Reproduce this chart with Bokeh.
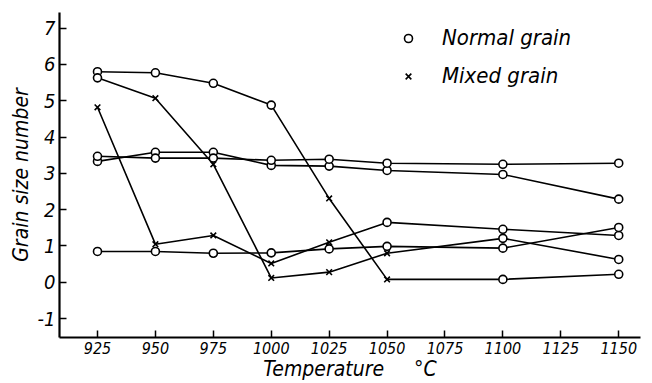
from bokeh.plotting import figure
from bokeh.models import FixedTicker, Legend, LegendItem
from bokeh.embed import file_html
from bokeh.resources import INLINE

# ---- data ----
temps = [925, 950, 975, 1000, 1025, 1050, 1100, 1150]
x_ticks = [925, 950, 975, 1000, 1025, 1050, 1075, 1100, 1125, 1150]
y_ticks = [-1, 0, 1, 2, 3, 4, 5, 6, 7]

s1 = [5.80, 5.77, 5.48, 4.88, 2.31, 0.08, 0.08, 0.22]
g1 = ["o", "o", "o", "o", "x", "x", "o", "o"]
s2 = [5.63, 5.07, 3.25, 0.12, 0.28, 0.80, 1.21, 0.63]
g2 = ["o", "x", "x", "x", "x", "x", "o", "o"]
s3 = [4.82, 1.05, 1.29, 0.52, 1.10, 1.65, 1.46, 1.29]
g3 = ["x", "x", "x", "x", "x", "o", "o", "o"]
s4 = [0.85, 0.85, 0.80, 0.81, 0.92, 0.99, 0.94, 1.51]
g4 = ["o", "o", "o", "o", "o", "o", "o", "o"]
s5 = [3.33, 3.58, 3.58, 3.22, 3.20, 3.08, 2.97, 2.29]
g5 = ["o", "o", "o", "o", "o", "o", "o", "o"]
s6 = [3.47, 3.42, 3.42, 3.36, 3.39, 3.28, 3.25, 3.28]
g6 = ["o", "o", "o", "o", "o", "o", "o", "o"]

series = [(s1, g1), (s2, g2), (s3, g3), (s4, g4), (s5, g5), (s6, g6)]

FONT = "DejaVu Sans Condensed, sans-serif"

p = figure(width=644, height=383, output_backend="svg", toolbar_location=None,
           x_range=(908.6, 1159.4), y_range=(-1.52, 7.43),
           min_border_left=59, min_border_right=4, min_border_top=12, min_border_bottom=46)
p.outline_line_color = None
p.grid.visible = False
p.background_fill_color = "white"
p.border_fill_color = "white"

for vals, _ in series:
    p.line(temps, vals, line_color="black", line_width=1.6)

ox, oy, xx, xy = [], [], [], []
for vals, kinds in series:
    for t, v, k in zip(temps, vals, kinds):
        if k == "o":
            ox.append(t); oy.append(v)
        else:
            xx.append(t); xy.append(v)

r_o = p.scatter(ox, oy, marker="circle", size=8, fill_color="white",
                line_color="black", line_width=1.6)
r_x = p.scatter(xx, xy, marker="x", size=8, line_color="black", line_width=1.6)

# axes
for ax in (p.xaxis[0], p.yaxis[0]):
    ax.axis_line_width = 2.2
    ax.axis_line_color = "black"
    ax.major_tick_line_width = 1.5
    ax.major_tick_in = 7
    ax.major_tick_out = 0
    ax.minor_tick_line_color = None
    ax.major_label_text_font = FONT
    ax.major_label_text_font_style = "italic"
    ax.major_label_text_color = "black"
    ax.axis_label_text_font = FONT
    ax.axis_label_text_font_style = "italic"
    ax.axis_label_text_color = "black"

p.xaxis.ticker = FixedTicker(ticks=x_ticks)
p.yaxis.ticker = FixedTicker(ticks=y_ticks)
p.yaxis.major_label_overrides = {-1: "-1"}
p.xaxis.major_label_text_font_size = "16px"
p.yaxis.major_label_text_font_size = "20px"
p.xaxis.major_label_standoff = 4
p.yaxis.major_label_standoff = 4
p.xaxis.axis_label = "Temperature\u00a0\u00a0\u00a0\u00a0\u00a0°C"
p.yaxis.axis_label = "Grain size number"
p.xaxis.axis_label_text_font_size = "21px"
p.yaxis.axis_label_text_font_size = "21px"
p.xaxis.axis_label_standoff = 0
p.yaxis.axis_label_standoff = 2

legend = Legend(items=[LegendItem(label="Normal grain", renderers=[r_o]),
                       LegendItem(label="Mixed grain", renderers=[r_x])],
                location=(339, 249), padding=0, margin=0, spacing=13,
                glyph_width=20, glyph_height=20, label_height=20,
                label_standoff=24, border_line_color=None,
                background_fill_alpha=0,
                label_text_font=FONT, label_text_font_style="italic",
                label_text_font_size="22px", label_text_color="black")
p.add_layout(legend)

open("out.html", "w").write(file_html(p, INLINE))
